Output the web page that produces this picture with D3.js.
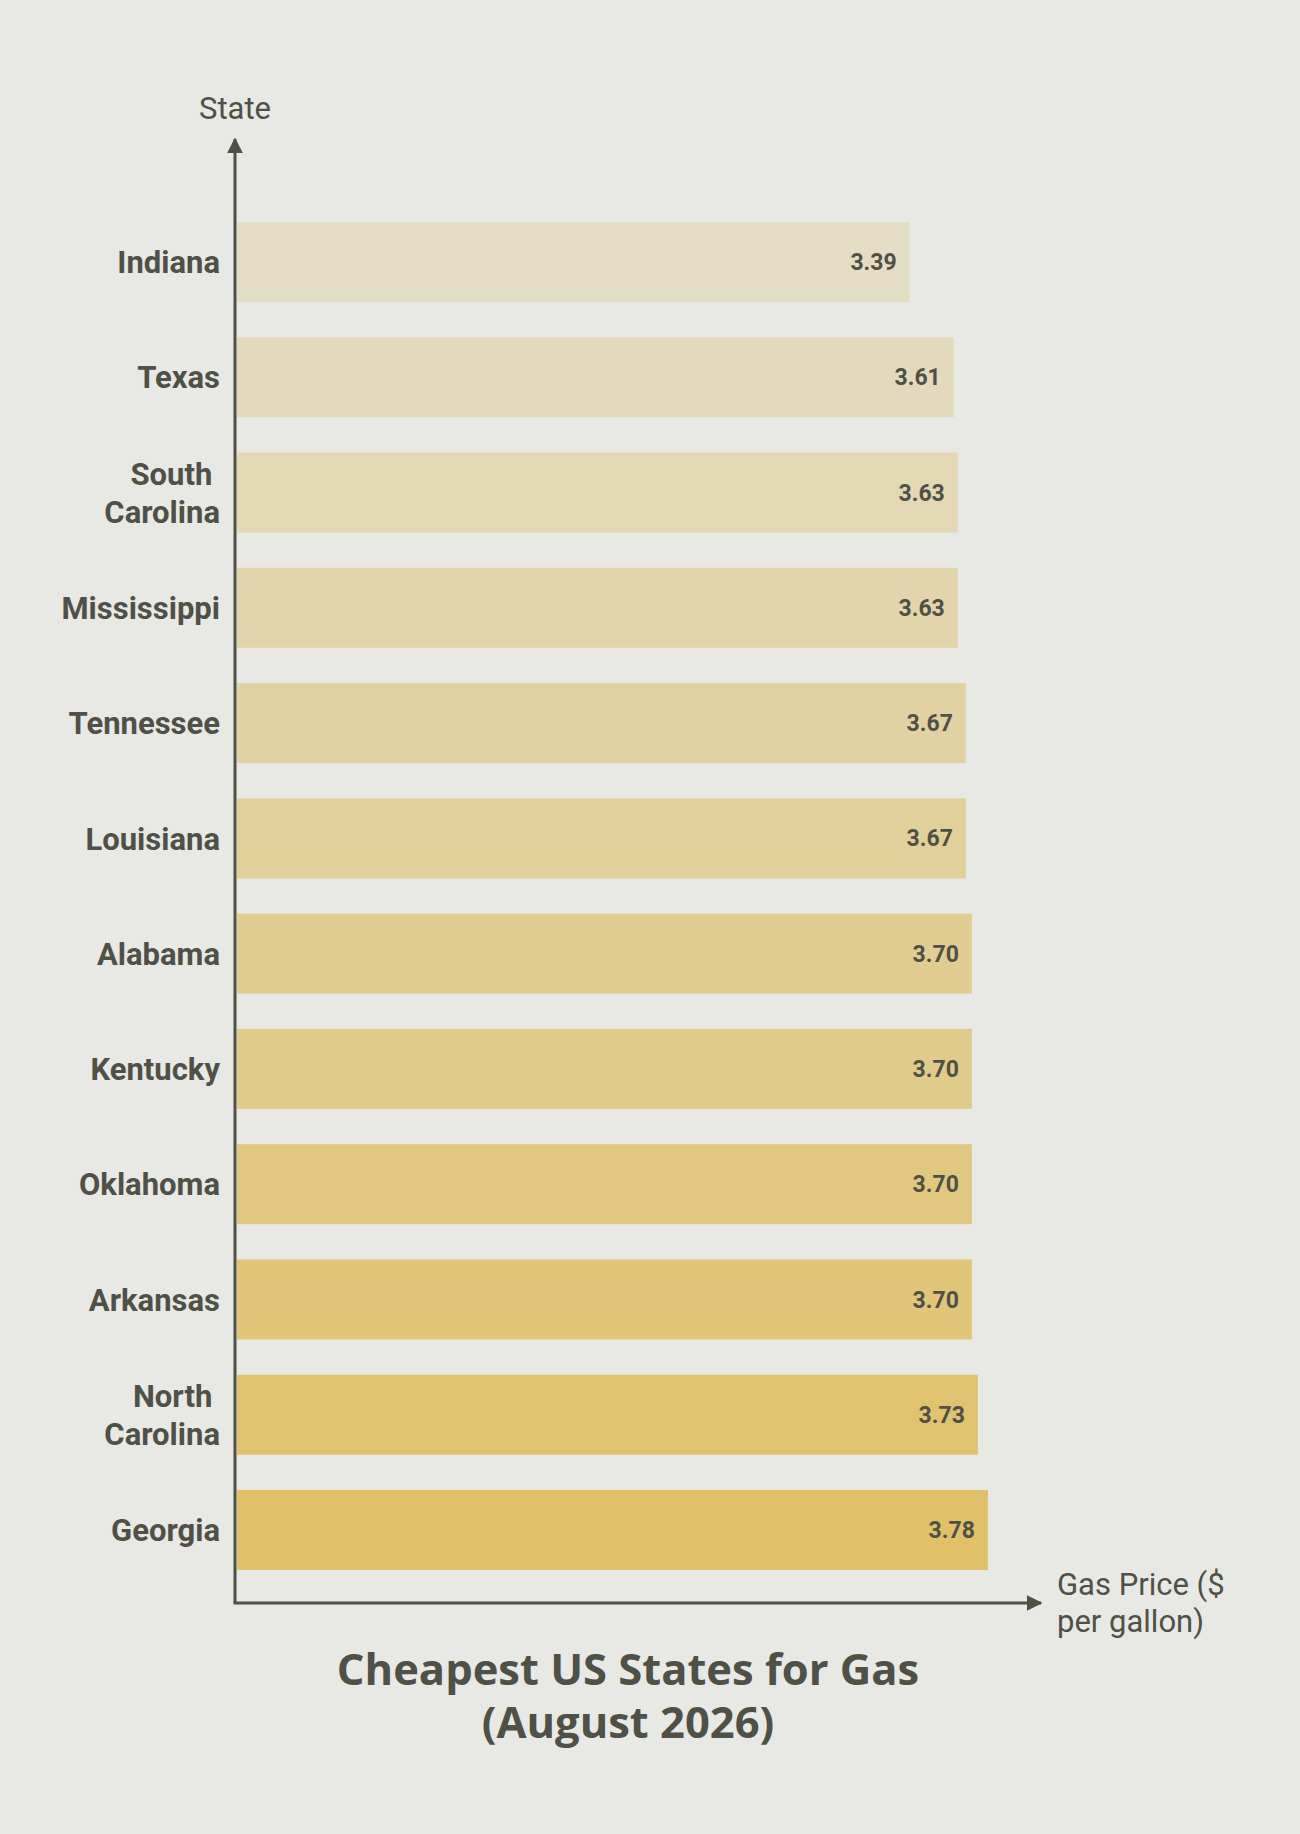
<!DOCTYPE html>
<html>
<head>
<meta charset="utf-8">
<script src="https://cdn.jsdelivr.net/npm/d3@7"></script>
<style>
  html, body { margin: 0; padding: 0; background: #e8e8e5; }
  svg { display: block; }
</style>
</head>
<body>
<div id="chart"></div>
<script>
// data
const states = ["Indiana", "Texas", "South Carolina", "Mississippi", "Tennessee", "Louisiana",
    "Alabama", "Kentucky", "Oklahoma", "Arkansas", "North Carolina", "Georgia"];
const prices = [3.39, 3.61, 3.63, 3.63, 3.67, 3.67, 3.70, 3.70, 3.70, 3.70, 3.73, 3.78];
const stateLines = {
    "South Carolina": ["South ", "Carolina"],
    "North Carolina": ["North ", "Carolina"]
};
const titleLines = ["Cheapest US States for Gas", "(August 2026)"];

const width = 1300,
    height = 1834;

const textColor = "#4f5046";
const axisX = 235,
    axisBottom = 1603;

const svg = d3.select("#chart")
    .append("svg")
    .attr("width", width)
    .attr("height", height);

svg.append("rect")
    .attr("width", width)
    .attr("height", height)
    .attr("fill", "#e8e8e5");

// scales
const x = d3.scaleLinear()
    .domain([0, 4])
    .range([230, 1032]);

const y = d3.scaleBand()
    .domain(states)
    .range([222, 1570])
    .paddingInner(0.306)
    .paddingOuter(0);

const color = d3.interpolateRgb("#e3ddc5", "#e0c068");

// bars
svg.append("g")
    .selectAll("rect")
    .data(states)
    .enter()
    .append("rect")
    .attr("x", axisX + 2)
    .attr("y", d => y(d))
    .attr("width", (d, i) => x(prices[i]) - axisX - 2)
    .attr("height", y.bandwidth())
    .attr("fill", (d, i) => color(i / (states.length - 1)));

// value labels
svg.append("g")
    .selectAll("text")
    .data(states)
    .enter()
    .append("text")
    .attr("x", (d, i) => x(prices[i]) - 13)
    .attr("y", d => y(d) + y.bandwidth() / 2)
    .attr("dy", "0.35em")
    .attr("text-anchor", "end")
    .attr("font-family", "Roboto, sans-serif")
    .attr("font-weight", "bold")
    .attr("font-size", 23)
    .attr("fill", textColor)
    .text((d, i) => prices[i].toFixed(2));

// state labels
const labels = svg.append("g")
    .selectAll("text")
    .data(states)
    .enter()
    .append("text")
    .attr("text-anchor", "end")
    .attr("font-family", "Roboto, sans-serif")
    .attr("font-weight", "bold")
    .attr("font-size", 31)
    .attr("fill", textColor)
    .style("white-space", "pre");

labels.each(function(d) {
    const lines = stateLines[d] || [d];
    const cy = y(d) + y.bandwidth() / 2;
    const lh = 38;
    d3.select(this).selectAll("tspan")
        .data(lines)
        .enter()
        .append("tspan")
        .attr("x", 220)
        .attr("y", (l, j) => cy + (j - (lines.length - 1) / 2) * lh)
        .attr("dy", "0.36em")
        .text(l => l);
});

// axes with arrows
const defs = svg.append("defs");
defs.append("marker")
    .attr("id", "arrow")
    .attr("viewBox", "0 0 10 10")
    .attr("refX", 9)
    .attr("refY", 5)
    .attr("markerUnits", "userSpaceOnUse")
    .attr("markerWidth", 16)
    .attr("markerHeight", 18)
    .attr("orient", "auto")
    .append("path")
    .attr("d", "M0,0 L10,5 L0,10 Z")
    .attr("fill", textColor);

svg.append("line")
    .attr("x1", axisX)
    .attr("y1", axisBottom)
    .attr("x2", axisX)
    .attr("y2", 139)
    .attr("stroke", textColor)
    .attr("stroke-width", 3)
    .attr("marker-end", "url(#arrow)");

svg.append("line")
    .attr("x1", axisX - 1.5)
    .attr("y1", axisBottom)
    .attr("x2", 1041)
    .attr("y2", axisBottom)
    .attr("stroke", textColor)
    .attr("stroke-width", 3)
    .attr("marker-end", "url(#arrow)");

// axis titles
svg.append("text")
    .attr("x", axisX)
    .attr("y", 119)
    .attr("text-anchor", "middle")
    .attr("font-family", "Roboto, sans-serif")
    .attr("font-size", 31)
    .attr("fill", textColor)
    .text("State");

svg.append("text")
    .attr("font-family", "Roboto, sans-serif")
    .attr("font-size", 31)
    .attr("fill", textColor)
    .selectAll("tspan")
    .data(["Gas Price ($", "per gallon)"])
    .enter()
    .append("tspan")
    .attr("x", 1057)
    .attr("y", (d, i) => 1595 + i * 37)
    .text(d => d);

// chart title, one text per line
svg.append("g")
    .selectAll("text")
    .data(titleLines)
    .enter()
    .append("text")
    .attr("x", 628)
    .attr("y", (d, i) => 1685 + i * 53)
    .attr("text-anchor", "middle")
    .attr("font-family", "'Open Sans', sans-serif")
    .attr("font-weight", "bold")
    .attr("font-size", 43.5)
    .attr("fill", textColor)
    .text(d => d);
</script>
</body>
</html>
